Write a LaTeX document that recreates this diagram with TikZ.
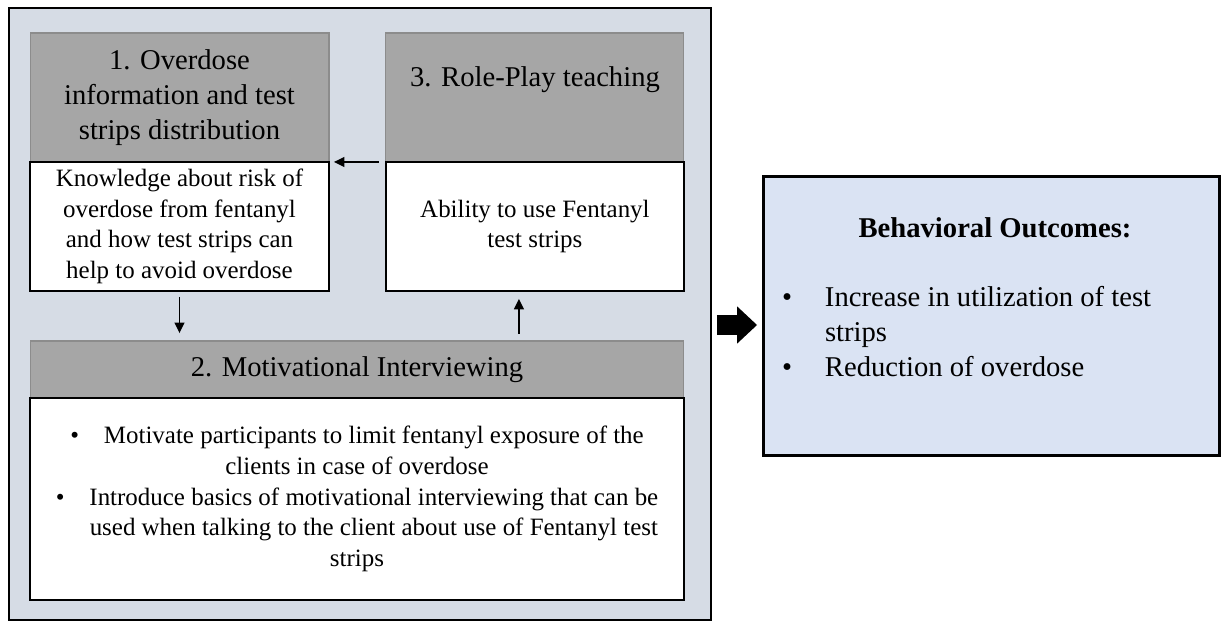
\documentclass[tikz,border=0pt]{standalone}
\usepackage{fontspec}
\setmainfont{Liberation Serif}
\usetikzlibrary{arrows.meta}
\usetikzlibrary{positioning}
\definecolor{panelblue}{HTML}{D6DCE5}
\definecolor{outblue}{HTML}{DAE3F3}
\definecolor{hdrgray}{HTML}{A6A6A6}
\definecolor{hdrline}{HTML}{8C8C8C}

\begin{document}
\begin{tikzpicture}[x=0.02cm,y=-0.02cm,node distance=0cm,
  every node/.style={inner sep=0pt,outer sep=0pt},
  hdr/.style={draw=hdrline,fill=hdrgray,line width=0.6pt,align=center,font=\fontsize{16.3}{19.9}\selectfont},
  body/.style={draw=black,fill=white,line width=0.8pt,align=center,font=\fontsize{14.2}{17.4}\selectfont},
  arr/.style={line width=1pt,-{Triangle[length=6pt,width=5.6pt]}}]
  \useasboundingbox (0,0) rectangle (1223,622);
  \node (frame) at (360,314)[draw,fill=panelblue,line width=1.3pt,minimum width=14.04cm,minimum height=12.24cm]{};
  \node (h1) at (179.5,97.5)[hdr,minimum width=5.98cm,minimum height=2.58cm]{1. Overdose\\information and test\\strips distribution};
  \node[below=of h1,body,minimum width=5.98cm,minimum height=2.58cm](b1){Knowledge about risk of\\overdose from fentanyl\\and how test strips can\\help to avoid overdose};
  \node[right=1.14cm of h1,hdr,minimum width=5.96cm,minimum height=2.58cm](h3){};
  \node (t3) at (535,80)[font=\fontsize{16.3}{19.9}\selectfont]{3. Role-Play teaching};
  \node[below=of h3,body,minimum width=5.96cm,minimum height=2.58cm](b3){Ability to use Fentanyl\\test strips};
  \node (h2) at (357,369.5)[hdr,minimum width=13.08cm,minimum height=1.14cm]{2. Motivational Interviewing};
  \node[below=of h2,body,minimum width=13.08cm,minimum height=4.04cm](b2){\textbullet\quad Motivate participants to limit fentanyl exposure of the\\clients in case of overdose\\\textbullet\quad Introduce basics of motivational interviewing that can be\\\hphantom{\textbullet\quad}used when talking to the client about use of Fentanyl test\\strips};

  \node (outcome) at (991.5,316)[draw,fill=outblue,line width=1.7pt,minimum width=9.14cm,minimum height=5.6cm]{};
  \node (outtitle) at (995,228)[font=\fontsize{16.3}{19.9}\selectfont\bfseries]{Behavioral Outcomes:};
  \node (outlist) at (782,332)[anchor=west,align=left,font=\fontsize{16.3}{19.9}\selectfont]{\makebox[0.86cm][l]{\textbullet}Increase in utilization of test\\\hspace*{0.86cm}strips\\\makebox[0.86cm][l]{\textbullet}Reduction of overdose};

  \coordinate (up) at ([xshift=-0.32cm]b3.south);
  \coordinate (bigtip) at ([yshift=-0.18cm]outcome.west);
  \draw[arr,shorten <=4pt,shorten >=2.8pt](h3.south west)--(h1.south east);
  \draw[arr,shorten <=3.4pt,shorten >=4.5pt](b1.south)--(b1.south |- h2.north);
  \draw[arr,shorten <=4pt,shorten >=4.5pt](up |- h2.north)--(up);
  \draw[line width=0.4cm,-{Triangle[length=0.4cm,width=0.72cm]},shorten <=3.4pt,shorten >=3.4pt](bigtip -| frame.east)--(bigtip);
\end{tikzpicture}
\end{document}
